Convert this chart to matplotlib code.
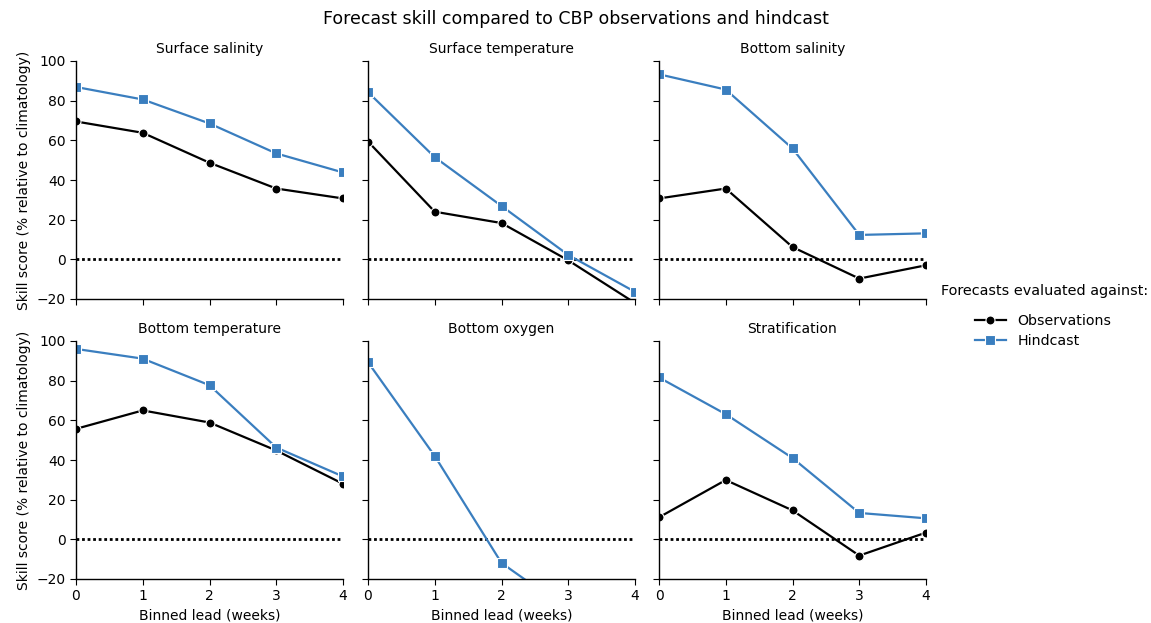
import matplotlib
matplotlib.use("Agg")
import matplotlib.pyplot as plt
import numpy as np

leads = [0, 1, 2, 3, 4]
panels = ["Surface salinity", "Surface temperature", "Bottom salinity",
          "Bottom temperature", "Bottom oxygen", "Stratification"]

obs_surface_salinity = [69.5, 63.8, 48.7, 35.7, 30.7]
hind_surface_salinity = [86.9, 80.6, 68.5, 53.4, 43.8]
obs_surface_temperature = [59.4, 24.0, 18.3, -0.5, -22.0]
hind_surface_temperature = [84.3, 51.5, 26.9, 2.2, -16.4]
obs_bottom_salinity = [30.7, 35.7, 6.2, -9.7, -3.0]
hind_bottom_salinity = [93.3, 85.6, 55.9, 12.3, 13.1]
obs_bottom_temperature = [55.7, 65.0, 58.9, 44.8, 28.0]
hind_bottom_temperature = [96.0, 91.1, 77.7, 46.3, 31.7]
obs_bottom_oxygen = [-45.0, -80.0, -120.0, -150.0, -170.0]
hind_bottom_oxygen = [89.3, 42.0, -11.9, -35.7, -50.0]
obs_stratification = [11.1, 29.9, 14.6, -8.2, 3.4]
hind_stratification = [81.6, 63.1, 41.0, 13.3, 10.6]

obs_all = [obs_surface_salinity, obs_surface_temperature, obs_bottom_salinity,
           obs_bottom_temperature, obs_bottom_oxygen, obs_stratification]
hind_all = [hind_surface_salinity, hind_surface_temperature, hind_bottom_salinity,
            hind_bottom_temperature, hind_bottom_oxygen, hind_stratification]

blue = "#3a7ebf"
W, H = 1151, 623
fig = plt.figure(figsize=(W / 100, H / 100), dpi=100)

lefts = [76, 368, 659]
tops = [61, 341]
aw, ah = 267, 238

axes = []
for r in range(2):
    for c in range(3):
        ax = fig.add_axes([lefts[c] / W, 1 - (tops[r] + ah) / H, aw / W, ah / H])
        axes.append((ax, r, c))

handles = None
for i, (ax, r, c) in enumerate(axes):
    ax.plot([0, 4], [0, 0], color="black", ls=(0, (1, 1)), lw=2.0)
    l1, = ax.plot(leads, obs_all[i], color="black", lw=1.6, marker="o", ms=6.5,
                  mec="white", mew=0.8, label="Observations")
    l2, = ax.plot(leads, hind_all[i], color=blue, lw=1.6, marker="s", ms=6.5,
                  mec="white", mew=0.8, label="Hindcast")
    handles = [l1, l2]
    ax.set_xlim(0, 4)
    ax.set_ylim(-20, 100)
    ax.set_xticks(leads)
    ax.set_yticks([-20, 0, 20, 40, 60, 80, 100])
    ax.spines["top"].set_visible(False)
    ax.spines["right"].set_visible(False)
    for s in ["left", "bottom"]:
        ax.spines[s].set_linewidth(1.0)
    ax.tick_params(labelsize=10, length=4)
    ax.set_title(panels[i], fontsize=10, pad=6)
    if c != 0:
        ax.tick_params(labelleft=False)
    else:
        ax.set_ylabel("Skill score (% relative to climatology)", fontsize=10)
    if r == 0:
        ax.tick_params(labelbottom=False)
    else:
        ax.set_xlabel("Binned lead (weeks)", fontsize=10)

fig.suptitle("Forecast skill compared to CBP observations and hindcast",
             fontsize=12.5, y=1 - 19 / H, va="center")

fig.text(941 / W, 1 - 291 / H, "Forecasts evaluated against:", fontsize=10.4,
         ha="left", va="center")
leg = fig.legend(handles=handles, labels=["Observations", "Hindcast"],
                 loc="upper left", bbox_to_anchor=(962 / W, 1 - 301 / H),
                 frameon=False, fontsize=10.2, handlelength=2.2,
                 labelspacing=0.45)

fig.savefig("out.png", dpi=100)
